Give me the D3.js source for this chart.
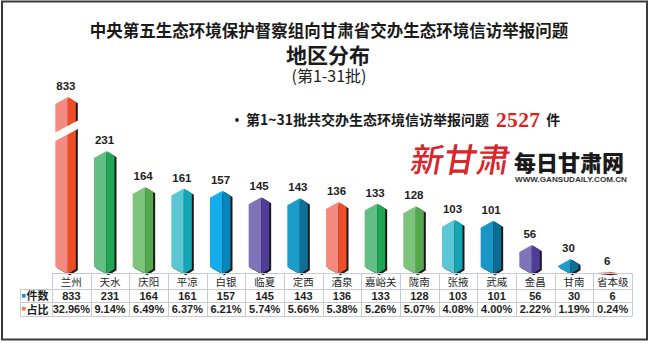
<!DOCTYPE html>
<html><head><meta charset="utf-8">
<script src="https://cdn.jsdelivr.net/npm/d3@7"></script>
<style>
html,body{margin:0;padding:0;background:#fff;}
svg{display:block;}
</style></head><body>
<svg id="chart" width="650" height="343"></svg>
<script>
// Regions, complaint counts and share of the total (batches 1–31)
const categories = ["兰州","天水","庆阳","平凉","白银","临夏","定西","酒泉","嘉峪关","陇南","张掖","武威","金昌","甘南","省本级"];
const counts = [833,231,164,161,157,145,143,136,133,128,103,101,56,30,6];
const shares = [32.96,9.14,6.49,6.37,6.21,5.74,5.66,5.38,5.26,5.07,4.08,4.00,2.22,1.19,0.24];
const totalCount = 2527;

// light (front-left) and dark (front-right) face colours for each prism
const palette = [
  ["#f58a80","#ee4d26"],["#62be82","#1fa653"],["#7cc47c","#54a84e"],["#5bc7d5","#15a5b4"],
  ["#13adec","#0585bb"],["#7f74b9","#4f3d98"],["#1b9cc9","#0d7097"],
  ["#f58a80","#ee4d26"],["#62be82","#1fa653"],["#7cc47c","#54a84e"],["#5bc7d5","#15a5b4"],
  ["#1a96c6","#0b6d96"],["#7f74b9","#4f3d98"],["#1b9cc9","#0d7097"],["#f58a80","#ee4d26"]
];

const W = 650, H = 343;
const cjk = "'Noto Sans CJK SC', 'Noto Sans', sans-serif";
const latin = "'Liberation Sans', Arial, sans-serif";
const serif = "'Liberation Serif', 'Times New Roman', serif";

const svg = d3.select("#chart");
svg.append("rect").attr("width", W).attr("height", H).attr("fill", "#fff");
svg.append("rect").attr("x", 2).attr("y", 1.5).attr("width", 645).attr("height", 338)
  .attr("fill", "none").attr("stroke", "#3a3a3a").attr("stroke-width", 2);

// ---- titles ----
svg.append("text").attr("x", 329).attr("y", 36.5).attr("text-anchor", "middle")
  .style("font-family", cjk).style("font-weight", 700).style("font-size", "16.5px").attr("fill", "#1a1a1a")
  .text("中央第五生态环境保护督察组向甘肃省交办生态环境信访举报问题");
svg.append("text").attr("x", 328).attr("y", 62.5).attr("text-anchor", "middle")
  .style("font-family", cjk).style("font-weight", 700).style("font-size", "21px").attr("fill", "#1a1a1a")
  .text("地区分布");
svg.append("text").attr("x", 329).attr("y", 81.5).attr("text-anchor", "middle")
  .style("font-family", cjk).style("font-weight", 400).style("font-size", "16px").attr("fill", "#222")
  .text("(第1-31批)");

// ---- total line ----
svg.append("circle").attr("cx", 237).attr("cy", 120).attr("r", 1.9).attr("fill", "#222");
const total = svg.append("text").attr("x", 246).attr("y", 125)
  .style("font-family", cjk).style("font-weight", 700).style("font-size", "14px").attr("fill", "#1a1a1a");
total.append("tspan").text("第1~31批共交办生态环境信访举报问题");
total.append("tspan").attr("dx", 7).attr("dy", 2).attr("fill", "#e0201e")
  .style("font-family", serif).style("font-size", "21.5px").style("letter-spacing", "0.3px")
  .text(d3.format("d")(totalCount));
total.append("tspan").attr("dx", 6).attr("dy", -2).text("件");

// ---- masthead ----
svg.append("text").attr("x", 0).attr("y", 0)
  .attr("transform", "translate(409,172) skewX(-10)")
  .style("font-family", cjk).style("font-weight", 500).style("font-size", "33px")
  .attr("fill", "#d8262b").text("新甘肃");
svg.append("text").attr("x", 514).attr("y", 170.5)
  .style("font-family", cjk).style("font-weight", 900).style("font-size", "22px").attr("fill", "#1a1a1a")
  .text("每日甘肃网");
svg.append("text").attr("x", 515).attr("y", 182)
  .attr("textLength", 112).attr("lengthAdjust", "spacingAndGlyphs")
  .style("font-family", latin).style("font-weight", 700).style("font-size", "7.5px").attr("fill", "#333")
  .text("WWW.GANSUDAILY.COM.CN");

// ---- scales ----
const x = d3.scaleBand().domain(categories).range([52, 632]);
// broken value axis: the tallest column is compressed above 250
const y = d3.scaleLinear().domain([0, 250, 833]).range([275, 140.75, 97]);
const yBase = y(0) - 1;

const bars = svg.append("g");
categories.forEach((c, i) => {
  const v = counts[i];
  const ridge = x(c) + x.bandwidth() / 2 - 3.5;
  const xl = ridge - 12.5, xe = ridge + 8;
  const yTop = y(v);
  const h = yBase - yTop;
  const cL = Math.min(7, h / 2), cR = Math.min(5, h / 2);
  const outline = [[xl, yTop + cL], [ridge, yTop], [xe, yTop + cR], [xe, yBase - cR], [ridge, yBase], [xl, yBase - cL]];
  const g = bars.append("g");
  g.append("polygon").attr("points", outline.map(p => [p[0] + 2, p[1] + 1.2].join(",")).join(" "))
    .attr("fill", "#1b1b1b");
  g.append("polygon").attr("points", [[xl, yTop + cL], [ridge, yTop], [ridge, yBase], [xl, yBase - cL]].map(p => p.join(",")).join(" "))
    .attr("fill", palette[i][0]);
  g.append("polygon").attr("points", [[ridge, yTop], [xe, yTop + cR], [xe, yBase - cR], [ridge, yBase]].map(p => p.join(",")).join(" "))
    .attr("fill", palette[i][1]);
  if (v > y.domain()[1]) {
    // axis-break cut through the compressed column
    const mid = y(y.domain()[1]) - 10;
    const a = xl - 2, b = xe + 4;
    g.append("polygon").attr("points", [[a, mid + 7 + 4.3], [a, mid + 7 - 4.3], [b, mid - 7 - 4.3], [b, mid - 7 + 4.3]].map(p => p.join(",")).join(" "))
      .attr("fill", "#fff");
  }
  g.append("text").attr("x", ridge - 2).attr("y", yTop - 7).attr("text-anchor", "middle")
    .style("font-family", latin).style("font-weight", 700).style("font-size", "11.5px").attr("fill", "#1e1e1e")
    .text(v);
});

// ---- data table ----
const rowsY = [273.5, 289.5, 302.5, 316.5];
const grid = svg.append("g").attr("stroke", "#c5cbd0").attr("stroke-width", 1).attr("fill", "none");
grid.append("line").attr("x1", 52).attr("x2", 632).attr("y1", rowsY[0]).attr("y2", rowsY[0]);
rowsY.slice(1).forEach(yy => grid.append("line").attr("x1", 20).attr("x2", 632).attr("y1", yy).attr("y2", yy));
grid.append("line").attr("x1", 20.5).attr("x2", 20.5).attr("y1", rowsY[1]).attr("y2", rowsY[3]);
d3.range(categories.length + 1).forEach(k => {
  const xx = Math.round(52 + k * x.bandwidth()) + 0.5;
  grid.append("line").attr("x1", xx).attr("x2", xx).attr("y1", rowsY[0]).attr("y2", rowsY[3]);
});

const cells = svg.append("g").attr("text-anchor", "middle").attr("fill", "#1e1e1e");
categories.forEach((c, i) => {
  const cx = x(c) + x.bandwidth() / 2;
  cells.append("text").attr("x", cx).attr("y", 285.5)
    .style("font-family", cjk).style("font-size", "10.5px").text(c);
  cells.append("text").attr("x", cx).attr("y", 300)
    .style("font-family", latin).style("font-weight", 700).style("font-size", "11px").text(counts[i]);
  cells.append("text").attr("x", cx).attr("y", 313)
    .style("font-family", latin).style("font-weight", 700).style("font-size", "11px").text(shares[i].toFixed(2) + "%");
});

// row headers with series keys
svg.append("rect").attr("x", 22).attr("y", 294).attr("width", 3.6).attr("height", 3.6).attr("fill", "#1b8ccc");
svg.append("rect").attr("x", 22).attr("y", 307).attr("width", 3.6).attr("height", 3.6).attr("fill", "#f37c3a");
svg.append("text").attr("x", 26.5).attr("y", 300)
  .style("font-family", cjk).style("font-weight", 700).style("font-size", "11px").attr("fill", "#1e1e1e").text("件数");
svg.append("text").attr("x", 26.5).attr("y", 313.5)
  .style("font-family", cjk).style("font-weight", 700).style("font-size", "11px").attr("fill", "#1e1e1e").text("占比");
</script>
</body></html>
